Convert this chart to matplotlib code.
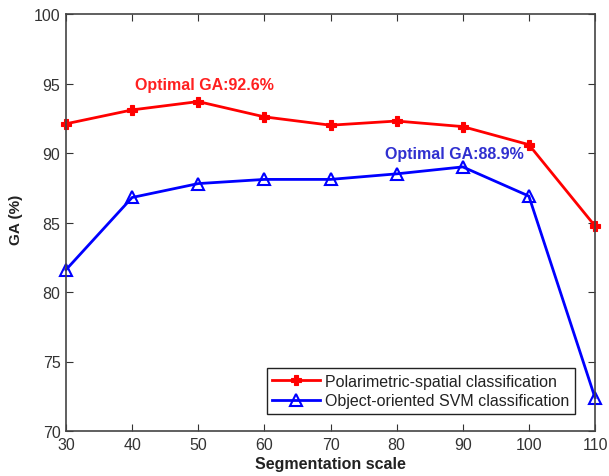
import matplotlib
matplotlib.use("Agg")
import matplotlib.pyplot as plt

scales = [30, 40, 50, 60, 70, 80, 90, 100, 110]
polarimetric = [92.1, 93.1, 93.7, 92.6, 92.0, 92.3, 91.9, 90.6, 84.75]
svm = [81.6, 86.8, 87.8, 88.1, 88.1, 88.5, 89.0, 86.9, 72.4]
yticks = [70, 75, 80, 85, 90, 95, 100]

plt.rcParams['font.family'] = ['Liberation Sans', 'DejaVu Sans']

fig = plt.figure(figsize=(6.09, 4.77), dpi=100)
L, R, T, B = 66, 595, 15, 432
ax = fig.add_axes([L/609, 1-B/477, (R-L)/609, (B-T)/477])

ax.plot(scales, polarimetric, color='#ff0000', lw=2, marker='P', markersize=6.5,
        markeredgewidth=0.8, label='Polarimetric-spatial classification', clip_on=False)
ax.plot(scales, svm, color='#0000ff', lw=2, marker='^', markersize=8,
        markerfacecolor='none', markeredgewidth=1.5,
        label='Object-oriented SVM classification', clip_on=False)

ax.set_xlim(30, 110)
ax.set_ylim(70, 100)
ax.set_xticks(scales)
ax.set_yticks(yticks)
ax.tick_params(direction='in', top=True, right=True, length=5, labelsize=11.5,
               colors='#333333', labelcolor='#333333', pad=4)
for s in ax.spines.values():
    s.set_linewidth(1.2)
    s.set_color('#444444')

ax.set_xlabel('Segmentation scale', fontsize=11.5, fontweight='bold', color='#222222')
ax.xaxis.set_label_coords(0.5, -(457 - B) / (B - T), transform=ax.transAxes)
ax.set_ylabel('GA (%)', fontsize=11, fontweight='bold', color='#222222')
ax.yaxis.set_label_coords(-(L - 23) / (R - L), (B - 220) / (B - T))

ax.text(40.4, 94.9, 'Optimal GA:92.6%', color='#ff2020', fontsize=11.5,
        fontweight='bold', va='center', ha='left')
ax.text(78.3, 89.93, 'Optimal GA:88.9%', color='#3030d0', fontsize=11.5,
        fontweight='bold', va='center', ha='left')

leg = ax.legend(loc='lower right', bbox_to_anchor=(583/609, 1-423/477),
                bbox_transform=fig.transFigure, fontsize=11.5, fancybox=False,
                edgecolor='#222222', framealpha=1, borderpad=0.35,
                handlelength=3.0, labelspacing=0.3, handletextpad=0.3)
leg.get_frame().set_linewidth(1)
for t in leg.get_texts():
    t.set_color('#222222')

fig.savefig('out.png', dpi=100)
